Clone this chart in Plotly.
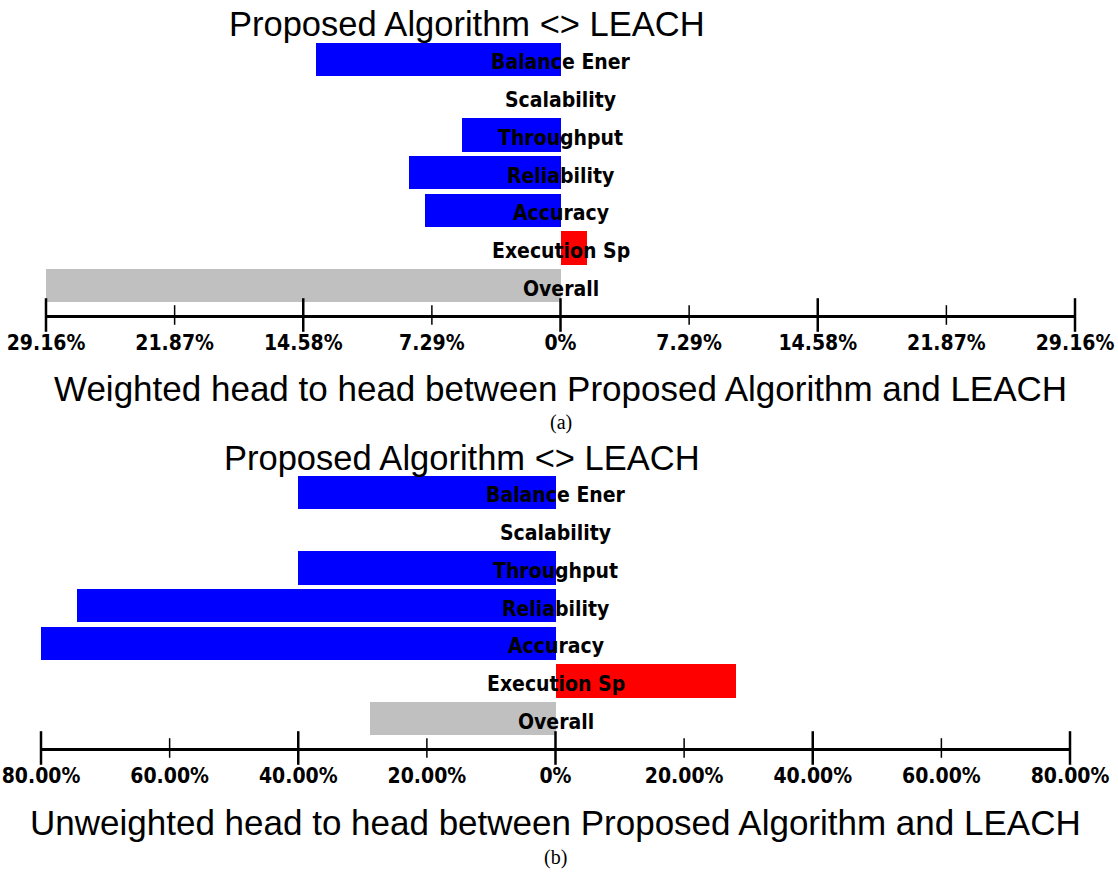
import plotly.graph_objects as go

# ---- data -------------------------------------------------------------
categories = ["Balance Ener", "Scalability", "Throughput", "Reliability",
              "Accuracy", "Execution Sp", "Overall"]

# signed head-to-head scores: negative = Proposed Algorithm ahead, positive = LEACH ahead
weighted = [-13.84, 0.0, -5.6, -8.6, -7.7, 1.5, -29.16]
unweighted = [-40.0, 0.0, -40.0, -74.4, -80.0, 28.1, -28.9]

weighted_ticks = [-29.16, -21.87, -14.58, -7.29, 0, 7.29, 14.58, 21.87, 29.16]
weighted_tick_labels = ["29.16%", "21.87%", "14.58%", "7.29%", "0%",
                        "7.29%", "14.58%", "21.87%", "29.16%"]
unweighted_ticks = [-80, -60, -40, -20, 0, 20, 40, 60, 80]
unweighted_tick_labels = ["80.00%", "60.00%", "40.00%", "20.00%", "0%",
                          "20.00%", "40.00%", "60.00%", "80.00%"]

panel_title = "Proposed Algorithm <> LEACH"
axis_titles = ["Weighted head to head between Proposed Algorithm and LEACH",
               "Unweighted head to head between Proposed Algorithm and LEACH"]
captions = ["(a)", "(b)"]

# ---- styling ----------------------------------------------------------
W, H = 1118, 872
BLUE, RED, GREY = "#0000FF", "#FF0000", "#C0C0C0"
BOLD_NARROW = "DejaVu Sans Condensed, Liberation Sans Narrow, sans-serif"
SANS = "Liberation Sans, Arial, sans-serif"
SERIF = "Liberation Serif, Times New Roman, serif"


def fx(p):
    return p / W


def fy(p):
    return 1 - p / H


# pixel geometry of each panel
panels = [
    dict(values=weighted, ticks=weighted_ticks, labels=weighted_tick_labels,
         xl=46, xr=1075, row0=59.5, pitch=37.67, line=315,
         title_x=466.5, title_y=24, axis_title_y=388, caption_y=422),
    dict(values=unweighted, ticks=unweighted_ticks, labels=unweighted_tick_labels,
         xl=41, xr=1070, row0=492.5, pitch=37.67, line=748,
         title_x=461.5, title_y=458, axis_title_y=822, caption_y=857),
]

fig = go.Figure()
annotations = []
n = len(categories)
rows = list(range(n))

for i, p in enumerate(panels):
    xa = "x" if i == 0 else "x2"
    ya = "y" if i == 0 else "y2"
    top_row = -0.6
    bottom_row = (p["line"] - p["row0"]) / p["pitch"]
    span = max(abs(t) for t in p["ticks"])

    colors = []
    for k, v in enumerate(p["values"]):
        if categories[k] == "Overall":
            colors.append(GREY)
        elif v < 0:
            colors.append(BLUE)
        else:
            colors.append(RED)

    fig.add_trace(go.Bar(
        x=p["values"], y=rows, orientation="h", width=0.88,
        marker=dict(color=colors, line=dict(width=0)),
        xaxis=xa, yaxis=ya, showlegend=False, hoverinfo="skip"))

    # category names centred on the zero line
    for k, name in enumerate(categories):
        annotations.append(dict(
            text=name, xref=xa, yref=ya, x=0, y=rows[k],
            xanchor="center", yanchor="middle", yshift=-3, showarrow=False,
            font=dict(family=BOLD_NARROW, size=21, color="black", weight="bold")))

    # crossing tick marks on the axis line
    major = p["ticks"][0::2]
    minor = p["ticks"][1::2]
    fig.add_trace(go.Scatter(
        x=major, y=[bottom_row] * len(major), mode="markers",
        marker=dict(symbol="line-ns", size=24, line=dict(width=2.5, color="black")),
        xaxis=xa, yaxis=ya, showlegend=False, hoverinfo="skip", cliponaxis=False))
    fig.add_trace(go.Scatter(
        x=minor, y=[bottom_row] * len(minor), mode="markers",
        marker=dict(symbol="line-ns", size=14, line=dict(width=1.5, color="black")),
        xaxis=xa, yaxis=ya, showlegend=False, hoverinfo="skip", cliponaxis=False))

    xdomain = [fx(p["xl"]), fx(p["xr"])]
    ydomain = [fy(p["line"]), fy(p["row0"] + top_row * p["pitch"])]
    xkey = "xaxis" if i == 0 else "xaxis2"
    ykey = "yaxis" if i == 0 else "yaxis2"
    fig.update_layout({
        xkey: dict(domain=xdomain, range=[-span, span], anchor=ya, automargin=False,
                   tickmode="array", tickvals=p["ticks"], ticktext=p["labels"],
                   ticks="outside", ticklen=7, tickcolor="rgba(0,0,0,0)",
                   tickfont=dict(family=BOLD_NARROW, size=21, color="black", weight="bold"),
                   showline=True, linewidth=3, linecolor="black",
                   showgrid=False, zeroline=False, fixedrange=True),
        ykey: dict(domain=ydomain, range=[bottom_row, top_row], anchor=xa,
                   automargin=False, showticklabels=False, ticks="", showgrid=False,
                   zeroline=False, showline=False, fixedrange=True),
    })

    annotations.append(dict(
        text=panel_title, xref="paper", yref="paper",
        x=fx(p["title_x"]), y=fy(p["title_y"]), xanchor="center", yanchor="middle",
        showarrow=False, font=dict(family=SANS, size=34.5, color="black")))
    annotations.append(dict(
        text=axis_titles[i], xref=xa, yref="paper",
        x=0, y=fy(p["axis_title_y"]), xanchor="center", yanchor="middle",
        showarrow=False, font=dict(family=SANS, size=35, color="black")))
    annotations.append(dict(
        text=captions[i], xref=xa, yref="paper",
        x=0, y=fy(p["caption_y"]), xanchor="center", yanchor="middle",
        showarrow=False, font=dict(family=SERIF, size=20, color="black")))

fig.update_layout(
    width=W, height=H, margin=dict(l=0, r=0, t=0, b=0),
    paper_bgcolor="white", plot_bgcolor="white",
    bargap=0, annotations=annotations, showlegend=False,
)

fig.write_html("out.html", config={"displayModeBar": False})
